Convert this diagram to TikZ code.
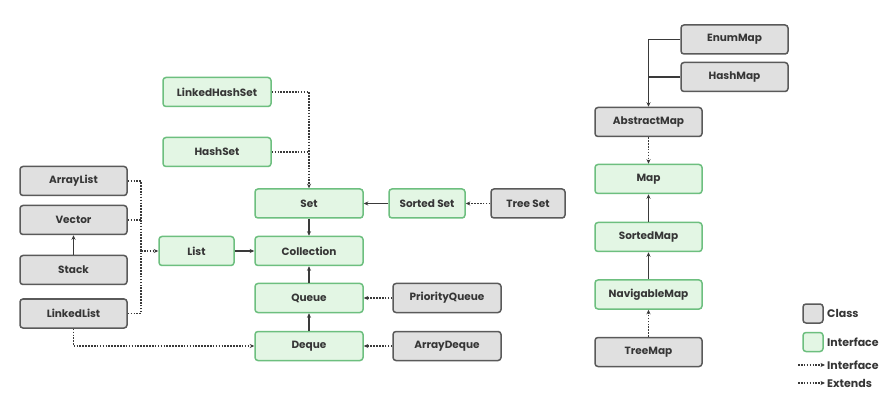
\documentclass[tikz,border=0pt]{standalone}
\usepackage{fontspec}
\setmainfont{Poppins}
\usetikzlibrary{arrows.meta}
\definecolor{clsf}{HTML}{E0E0E0}
\definecolor{clsb}{HTML}{5A5A5A}
\definecolor{iff}{HTML}{E3F6E4}
\definecolor{ifb}{HTML}{6DBF7F}
\definecolor{txt}{HTML}{363636}
\definecolor{ln}{HTML}{3A3A3A}
\begin{document}
\begin{tikzpicture}[x=1pt,y=-1pt,
 base/.style={rounded corners=3pt, line width=1.5pt, minimum height=29pt, font=\bfseries\fontsize{10.5}{12}\selectfont, text=txt, inner sep=0pt},
 cls/.style={base, draw=clsb, fill=clsf},
 ifc/.style={base, draw=ifb, fill=iff},
 solline/.style={draw=ln, line width=1.7pt},
 dotline/.style={solline, dash pattern=on 1.6pt off 1.3pt},
 sol/.style={solline, -{Stealth[length=4.5pt,width=4pt]}},
 dot/.style={dotline, -{Stealth[length=4.5pt,width=4pt]}},
 lbl/.style={font=\bfseries\fontsize{11}{13}\selectfont, text=txt, inner sep=0pt, anchor=west}]
\fill[white] (0,0) rectangle (892,406);
\useasboundingbox (0,0) rectangle (892,406);
% left classes
\node[cls, minimum width=107pt] (arraylist) at (73.5,181) {ArrayList};
\node[cls, minimum width=107pt] (vector) at (73.5,220) {Vector};
\node[cls, minimum width=107pt] (stack) at (73.5,270) {Stack};
\node[cls, minimum width=107pt] (linkedlist) at (73.5,313.5) {LinkedList};
\node[ifc, minimum width=75pt] (list) at (196.5,251) {List};
% sets
\node[ifc, minimum width=108pt] (linkedhashset) at (217,92) {LinkedHashSet};
\node[ifc, minimum width=108pt] (hashset) at (217,152) {HashSet};
\node[ifc, minimum width=108pt] (set) at (309,203.5) {Set};
\node[ifc, minimum width=76pt] (sortedset) at (427,203.5) {Sorted Set};
\node[cls, minimum width=74pt] (treeset) at (528,203.5) {Tree Set};
% core
\node[ifc, minimum width=108pt] (collection) at (309,251) {Collection};
\node[ifc, minimum width=108pt] (queue) at (309,298) {Queue};
\node[ifc, minimum width=108pt] (deque) at (309,346) {Deque};
\node[cls, minimum width=108pt] (priorityqueue) at (447,298) {PriorityQueue};
\node[cls, minimum width=108pt] (arraydeque) at (447,346) {ArrayDeque};
% maps
\node[cls, minimum width=107pt] (enummap) at (734.5,39.5) {EnumMap};
\node[cls, minimum width=107pt] (hashmap) at (734.5,77) {HashMap};
\node[cls, minimum width=107pt] (abstractmap) at (648.5,122) {AbstractMap};
\node[ifc, minimum width=107pt] (map) at (648.5,179) {Map};
\node[ifc, minimum width=107pt] (sortedmap) at (648.5,237) {SortedMap};
\node[ifc, minimum width=107pt] (navigablemap) at (648.5,294.5) {NavigableMap};
\node[cls, minimum width=107pt] (treemap) at (648.5,352) {TreeMap};
% legend
\node[cls, minimum width=20pt, minimum height=19pt] (lgcls) at (813,313.5) {};
\node[lbl] (lgclst) at (827,313) {Class};
\node[ifc, minimum width=20pt, minimum height=19pt] (lgifc) at (813,342) {};
\node[lbl] (lgifct) at (827,342) {Interface};
\coordinate (lga) at (798,365);
\node[lbl] (lgat) at (827,365) {Interface};
\coordinate (lgb) at (798,383);
\node[lbl] (lgbt) at (827,383) {Extends};
\draw[dot] (lga) -- ([xshift=-2pt]lgat.west);
\draw[dot] (lgb) -- ([xshift=-2pt]lgbt.west);
% connectors: sets
\draw[dot] (linkedhashset.east) -| (set.north);
\draw[dotline] (hashset.east) -- (hashset.east -| set.north);
\draw[sol] (set.south) -- (collection.north);
\draw[sol] (sortedset.west) -- (set.east);
\draw[dot] (treeset.west) -- (sortedset.east);
% lists
\coordinate (bus) at (141,251);
\draw[dotline] (arraylist.east) -| (bus);
\draw[dotline] (linkedlist.east) -| (bus);
\draw[dotline] (vector.east) -- (vector.east -| bus);
\draw[dot] (bus) -- (list.west);
\draw[sol] (stack.north) -- (vector.south);
\draw[sol] (list.east) -- (collection.west);
% queues
\draw[sol] (queue.north) -- (collection.south);
\draw[sol] (deque.north) -- (queue.south);
\draw[dot] (priorityqueue.west) -- (queue.east);
\draw[dot] (arraydeque.west) -- (deque.east);
\draw[dot] (linkedlist.south) |- (deque.west);
% maps
\draw[sol] (enummap.west) -| (abstractmap.north);
\draw[solline] (hashmap.west) -- (hashmap.west -| abstractmap.north);
\draw[dot] (abstractmap.south) -- (map.north);
\draw[sol] (sortedmap.north) -- (map.south);
\draw[sol] (navigablemap.north) -- (sortedmap.south);
\draw[dot] (treemap.north) -- (navigablemap.south);
\end{tikzpicture}
\end{document}
